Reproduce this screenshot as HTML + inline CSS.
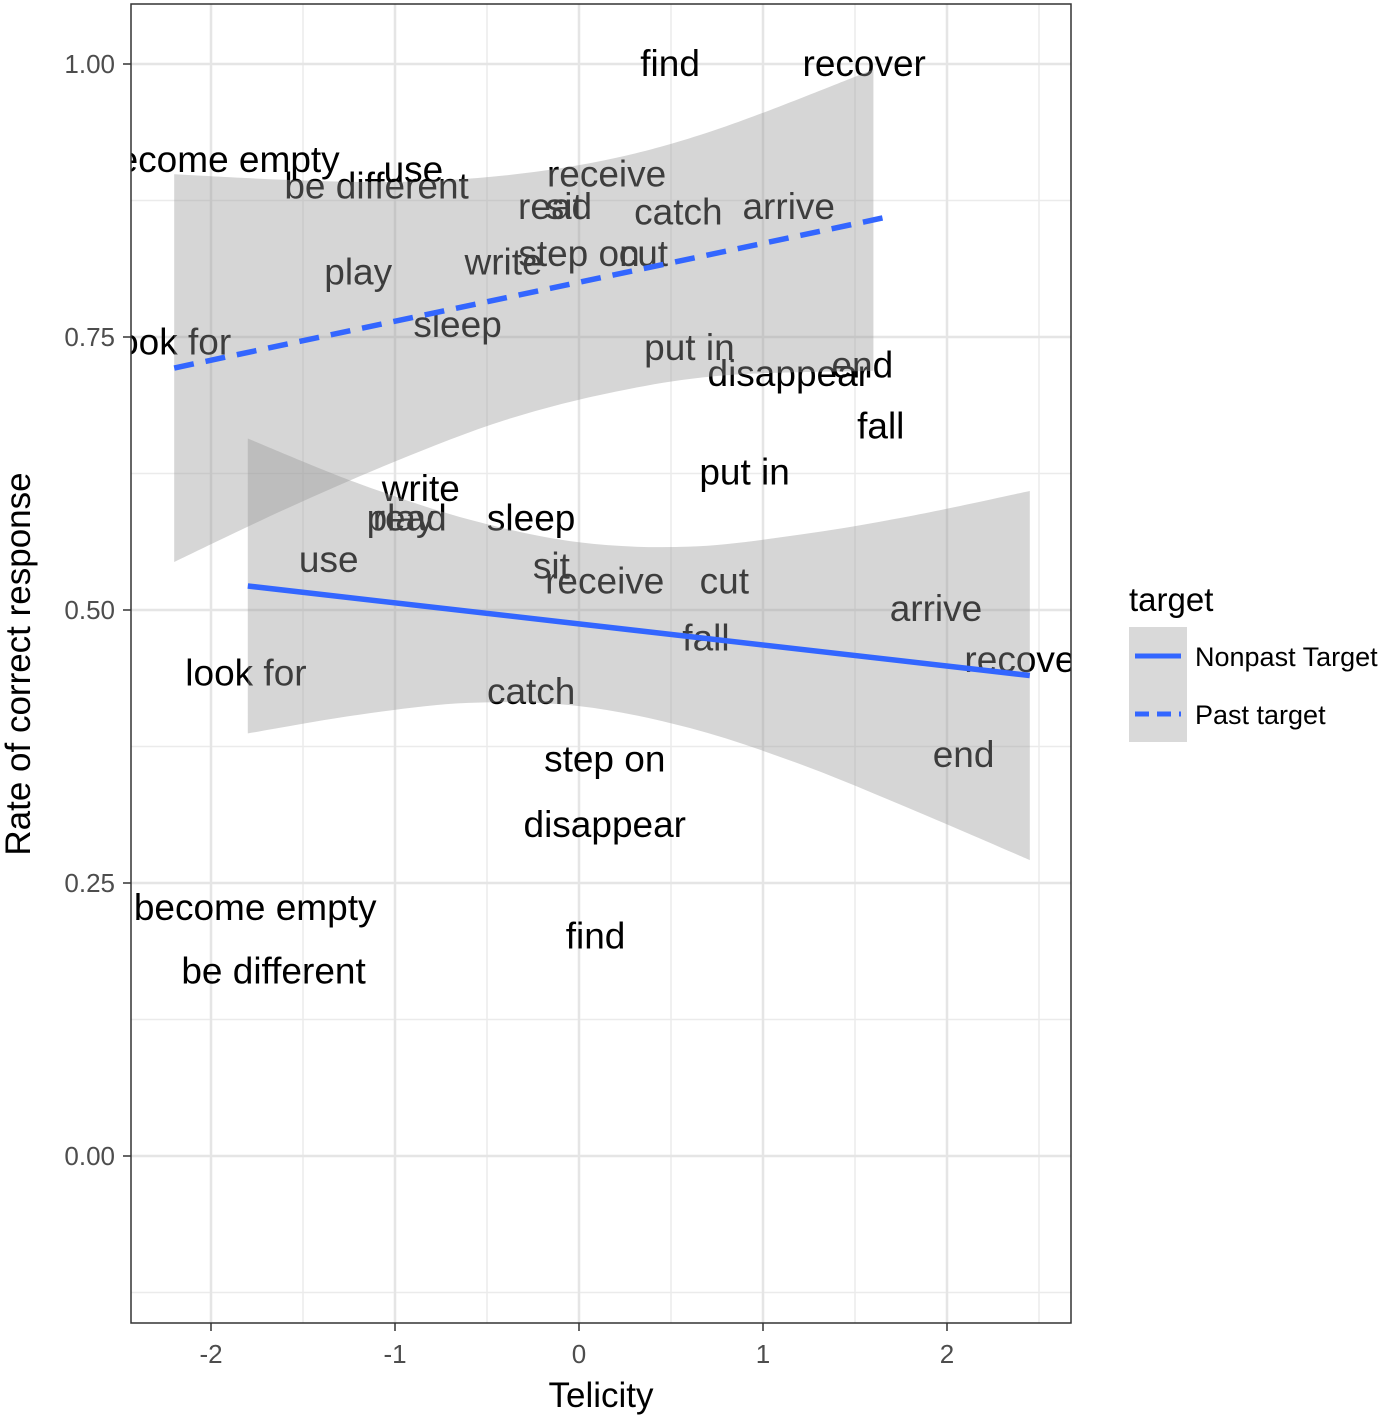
<!DOCTYPE html>
<html><head><meta charset="utf-8"><style>
html,body{margin:0;padding:0;background:#fff;}
svg{display:block;font-family:"Liberation Sans",Arial,sans-serif;}
</style></head><body>
<svg id="chart" width="1400" height="1418" viewBox="0 0 1400 1418" xmlns="http://www.w3.org/2000/svg">
<defs><clipPath id="panel"><rect x="131" y="4" width="940" height="1319"/></clipPath></defs>
<rect x="131" y="4" width="940" height="1319" fill="#fff"/>
<g id="grid"></g>
<g id="labels" clip-path="url(#panel)"></g>
<g id="ribbons" clip-path="url(#panel)"></g>
<g id="lines" clip-path="url(#panel)"></g>
<rect x="131" y="4" width="940" height="1319" fill="none" stroke="#333" stroke-width="1.5"/>
<g id="axes"></g>
<text x="601" y="1407" font-size="35" text-anchor="middle" fill="#000">Telicity</text>
<text transform="translate(30,664) rotate(-90)" font-size="35" text-anchor="middle" fill="#000">Rate of correct response</text>
<g>
<text x="1129" y="611" font-size="33" fill="#000">target</text>
<rect x="1129" y="627" width="58" height="115" fill="#d9d9d9"/>
<line x1="1135" y1="656" x2="1181" y2="656" stroke="#3366FF" stroke-width="5"/>
<line x1="1135" y1="714" x2="1181" y2="714" stroke="#3366FF" stroke-width="5" stroke-dasharray="14,8"/>
<text x="1195" y="666" font-size="27" fill="#000">Nonpast Target</text>
<text x="1195" y="724" font-size="27" fill="#000">Past target</text>
</g>
</svg>
<script>
const xTicks = [-2, -1, 0, 1, 2];
const yTicks = [0, 0.25, 0.5, 0.75, 1.0];
const yTickLabels = ["0.00", "0.25", "0.50", "0.75", "1.00"];
const xMinor = [-1.5, -0.5, 0.5, 1.5, 2.5];
const yMinor = [-0.125, 0.125, 0.375, 0.625, 0.875];

const pastVerbs = ["find","recover","become empty","use","be different","receive","read","sit","catch","arrive","write","step on","cut","play","look for","sleep","put in","disappear","end","fall"];
const pastX = [0.495,1.55,-1.96,-0.9,-1.1,0.15,-0.13,-0.08,0.54,1.14,-0.41,0.0,0.35,-1.2,-2.22,-0.66,0.6,1.14,1.54,1.64];
const pastY = [1.0,1.0,0.912,0.903,0.888,0.899,0.869,0.869,0.864,0.869,0.818,0.826,0.826,0.809,0.745,0.761,0.74,0.716,0.724,0.668];

const nonpastVerbs = ["put in","write","read","play","sleep","use","sit","receive","cut","arrive","fall","recover","look for","catch","end","step on","disappear","become empty","find","be different"];
const nonpastX = [0.9,-0.86,-0.92,-0.97,-0.26,-1.36,-0.15,0.14,0.79,1.94,0.69,2.43,-1.81,-0.26,2.09,0.14,0.14,-1.76,0.09,-1.66];
const nonpastY = [0.626,0.611,0.584,0.584,0.584,0.546,0.54,0.526,0.526,0.501,0.474,0.454,0.442,0.425,0.367,0.363,0.303,0.227,0.201,0.169];

const pastRibX = [-2.2,-1.6,-1.0,-0.4,0.2,0.8,1.6];
const pastRibLo = [0.544,0.592,0.636,0.674,0.700,0.715,0.719];
const pastRibHi = [0.899,0.894,0.892,0.898,0.914,0.943,0.995];
const pastLineX = [-2.2, 1.65];
const pastLineY = [0.7216, 0.859];

const npRibX = [-1.8,-1.2,-0.6,0,0.6,1.2,1.8,2.45];
const npRibLo = [0.387,0.404,0.415,0.412,0.392,0.359,0.318,0.271];
const npRibHi = [0.657,0.616,0.583,0.562,0.558,0.569,0.586,0.609];
const npLineX = [-1.8, 2.45];
const npLineY = [0.522, 0.440];

const NS = "http://www.w3.org/2000/svg";
function sx(v){ return 579 + v*184; }
function sy(v){ return 1156 - v*1092; }
function mk(tag, attrs, parent){ const e=document.createElementNS(NS,tag); for(const k in attrs) e.setAttribute(k,attrs[k]); parent.appendChild(e); return e; }

const grid=document.getElementById('grid');
xMinor.forEach(v=>{ const l=mk('line',{x1:sx(v),x2:sx(v),y1:4,y2:1323,stroke:'#ebebeb','stroke-width':1.5},grid);

 });
yMinor.forEach(v=>{ const l=mk('line',{x1:131,x2:1071,y1:sy(v),y2:sy(v),stroke:'#ebebeb','stroke-width':1.5},grid);

 });
xTicks.forEach(v=>{ const l=mk('line',{x1:sx(v),x2:sx(v),y1:4,y2:1323,stroke:'#e5e5e5','stroke-width':2.5},grid);

 });
yTicks.forEach(v=>{ const l=mk('line',{x1:131,x2:1071,y1:sy(v),y2:sy(v),stroke:'#e5e5e5','stroke-width':2.5},grid);

 });

const axes=document.getElementById('axes');
xTicks.forEach(v=>{ const t=mk('line',{x1:sx(v),x2:sx(v),y1:1323,y2:1331,stroke:'#333','stroke-width':1.5},axes);


const tx=mk('text',{x:sx(v),y:1363,'font-size':26,'text-anchor':'middle',fill:'#4d4d4d'},axes); tx.textContent=String(v);

 });
yTicks.forEach((v,i)=>{ const t=mk('line',{x1:123,x2:131,y1:sy(v),y2:sy(v),stroke:'#333','stroke-width':1.5},axes);


const tx=mk('text',{x:115,y:sy(v)+9,'font-size':26,'text-anchor':'end',fill:'#4d4d4d'},axes); tx.textContent=yTickLabels[i];

 });

const labels=document.getElementById('labels');
pastVerbs.forEach((w,i)=>{ const t=mk('text',{x:sx(pastX[i]),y:sy(pastY[i])+12,'font-size':37,'text-anchor':'middle',fill:'#000'},labels); t.textContent=w;

 });
nonpastVerbs.forEach((w,i)=>{ const t=mk('text',{x:sx(nonpastX[i]),y:sy(nonpastY[i])+12,'font-size':37,'text-anchor':'middle',fill:'#000'},labels); t.textContent=w;

 });

function smooth(pts){
  let d='';
  for(let i=0;i<pts.length-1;i++){
    const p0=pts[Math.max(0,i-1)], p1=pts[i], p2=pts[i+1], p3=pts[Math.min(pts.length-1,i+2)];
    const c1=[p1[0]+(p2[0]-p0[0])/6, p1[1]+(p2[1]-p0[1])/6];
    const c2=[p2[0]-(p3[0]-p1[0])/6, p2[1]-(p3[1]-p1[1])/6];
    d+=' C'+c1[0]+','+c1[1]+' '+c2[0]+','+c2[1]+' '+p2[0]+','+p2[1];
  }
  return d;
}
const ribbons=document.getElementById('ribbons');
function ribbon(xs,lo,hi,name){
  const top=xs.map((x,i)=>[sx(x),sy(hi[i])]);
  const bot=xs.map((x,i)=>[sx(x),sy(lo[i])]).reverse();
  const d='M'+top[0][0]+','+top[0][1]+smooth(top)+' L'+bot[0][0]+','+bot[0][1]+smooth(bot)+' Z';
  const p=mk('path',{d:d,fill:'#999','fill-opacity':0.4},ribbons);
  
  
}
ribbon(pastRibX,pastRibLo,pastRibHi,'past-ribbon');
ribbon(npRibX,npRibLo,npRibHi,'nonpast-ribbon');

const lines=document.getElementById('lines');
const lp=mk('line',{x1:sx(pastLineX[0]),y1:sy(pastLineY[0]),x2:sx(pastLineX[1]),y2:sy(pastLineY[1]),stroke:'#3366FF','stroke-width':5.5,'stroke-dasharray':'20,12'},lines);


const ln=mk('line',{x1:sx(npLineX[0]),y1:sy(npLineY[0]),x2:sx(npLineX[1]),y2:sy(npLineY[1]),stroke:'#3366FF','stroke-width':5.5},lines);


</script>
</body></html>
